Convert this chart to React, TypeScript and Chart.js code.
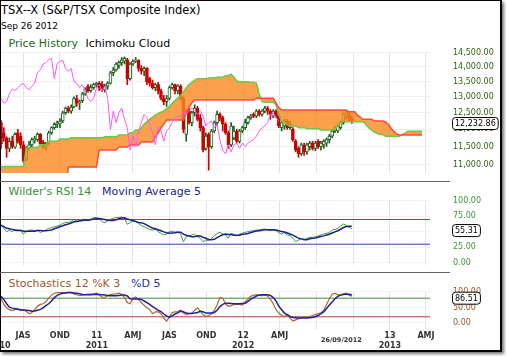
import React, { useEffect, useRef } from 'react';
import { Chart, registerables } from 'chart.js';

Chart.register(...registerables);

const FONT = '"DejaVu Sans", Verdana, sans-serif';

// ---------------- time axis ----------------
const AXIS_ORIGIN = '2010-07-01';
const X_MIN_DATE = '2010-05-07';
const X_MAX_DATE = '2013-04-11';
const FIRST_WEEK = '2010-05-07'; // first weekly candle (Friday)
const QUARTER_DATES = ['2010-07-01', '2010-10-01', '2011-01-01', '2011-04-01', '2011-07-01', '2011-10-01',
  '2012-01-01', '2012-04-01', '2012-07-01', '2012-10-01', '2013-01-01', '2013-04-01'];
const QUARTER_LABELS: any[] = ['JAS', 'OND', ['11', '2011'], 'AMJ', 'JAS', 'OND', ['12', '2012'], 'AMJ', '', '',
  ['13', '2013'], 'AMJ'];
const EDGE_YEAR_DATE = '2010-05-17';
const EDGE_YEAR_LABEL = ['', '10'];
const AS_OF_LABEL_DATE = '2012-09-02';
const AS_OF_LABEL = '26/09/2012';

// ---------------- weekly candles (May 7 2010 .. Sep 28 2012) ----------------
const OPEN = [12200, 11900, 11750, 11450, 11650, 11480, 11900, 11800,
  11550, 11150, 11450, 11550, 11700, 11700, 11850, 11620, 11480, 11580,
  11900, 12050, 12150, 12160, 12250, 12500, 12650, 12550, 12680, 12950,
  12800, 12880, 13100, 13350, 13200, 13300, 13400, 13450, 13420, 13230,
  13350, 13450, 13800, 13900, 14050, 14150, 14200, 14250, 13600, 14100,
  14200, 14230, 13950, 13850, 13950, 13600, 13450, 13300, 13400, 13200,
  12950, 12850, 12950, 13300, 13400, 13200, 13350, 12950, 11850, 12550,
  12200, 12500, 12650, 12350, 12050, 11450, 11850, 11500, 11950, 12200,
  12450, 12350, 12150, 11900, 11550, 11750, 11950, 11650, 11950, 12050,
  12200, 12350, 12450, 12400, 12550, 12450, 12550, 12650, 12550, 12400,
  12550, 12400, 12050, 12100, 12250, 12050, 12000, 11650, 11450, 11300,
  11550, 11350, 11500, 11600, 11450, 11650, 11500, 11550, 11600, 11700,
  11800, 11950, 11950, 12050, 12200, 12400, 12450, 12350];
const HIGH = [12260, 12050, 11780, 11750, 11800, 11900, 12000, 11900,
  11650, 11500, 11650, 11750, 11800, 11900, 11880, 11680, 11620, 11950,
  12080, 12200, 12250, 12320, 12550, 12680, 12700, 12750, 13000, 13050,
  12900, 13150, 13300, 13400, 13400, 13450, 13480, 13500, 13500, 13420,
  13500, 13850, 13980, 14150, 14200, 14330, 14350, 14300, 14150, 14250,
  14330, 14250, 14050, 14000, 13980, 13650, 13550, 13450, 13480, 13250,
  13050, 13050, 13350, 13450, 13420, 13400, 13400, 13000, 12600, 12650,
  12550, 12750, 12700, 12450, 12100, 11900, 11900, 12000, 12250, 12550,
  12500, 12400, 12200, 11950, 12200, 12100, 12000, 12000, 12100, 12300,
  12400, 12450, 12500, 12600, 12600, 12600, 12700, 12700, 12600, 12600,
  12600, 12450, 12250, 12300, 12300, 12250, 12050, 11700, 11500, 11600,
  11600, 11600, 11650, 11650, 11650, 11700, 11650, 11700, 11750, 11850,
  12000, 12100, 12150, 12250, 12500, 12550, 12500, 12400];
const LOW = [11450, 11650, 11200, 11350, 11450, 11450, 11600, 11450,
  11050, 11100, 11400, 11500, 11600, 11650, 11520, 11430, 11400, 11560,
  11850, 12000, 12050, 12050, 12200, 12450, 12500, 12480, 12650, 12700,
  12600, 12820, 13050, 13150, 13150, 13250, 13330, 13200, 13180, 13150,
  13250, 13420, 13700, 13850, 13950, 14050, 14100, 13400, 13550, 14050,
  14150, 13850, 13750, 13700, 13400, 13350, 13250, 13200, 13100, 12900,
  12750, 12700, 12900, 13250, 13100, 13100, 12900, 11900, 11650, 12150,
  12100, 12400, 12250, 11950, 11350, 11400, 10850, 11450, 11900, 12100,
  12250, 11950, 11850, 11450, 11500, 11700, 11600, 11600, 11900, 12000,
  12150, 12300, 12350, 12350, 12400, 12400, 12500, 12450, 12300, 12350,
  12350, 12050, 11950, 12000, 12000, 12000, 11650, 11350, 11200, 11250,
  11250, 11280, 11400, 11400, 11380, 11450, 11400, 11450, 11500, 11600,
  11750, 11900, 11900, 12000, 12150, 12300, 12250, 12180];
const CLOSE = [11580, 11750, 11450, 11650, 11500, 11850, 11650, 11550,
  11100, 11450, 11550, 11700, 11710, 11850, 11580, 11480, 11580, 11900,
  12050, 12150, 12160, 12250, 12500, 12650, 12550, 12680, 12950, 12800,
  12850, 13100, 13250, 13200, 13300, 13400, 13440, 13300, 13230, 13350,
  13450, 13800, 13900, 14100, 14150, 14250, 14300, 13600, 14100, 14200,
  14230, 13950, 13850, 13950, 13500, 13450, 13300, 13400, 13200, 12950,
  12850, 12950, 13300, 13400, 13200, 13350, 12950, 12000, 12550, 12200,
  12500, 12650, 12300, 12050, 11400, 11800, 11500, 11950, 12200, 12450,
  12350, 12150, 11900, 11550, 12100, 11950, 11650, 11950, 12050, 12200,
  12350, 12400, 12400, 12550, 12450, 12550, 12650, 12550, 12450, 12550,
  12400, 12100, 12200, 12250, 12050, 12150, 11700, 11400, 11300, 11550,
  11350, 11550, 11600, 11450, 11600, 11500, 11600, 11650, 11700, 11800,
  11950, 12050, 12100, 12200, 12450, 12500, 12350, 12232.86];
const LAST_CLOSE_TEXT = '12,232.86';

// Ichimoku cloud (senkou spans, drawn 26 weeks ahead)
const SPAN_A = [10950, 10950, 10950, 10950, 10950, 10950, 10950, 10950, 10950,
  11450, 11470, 11470, 11470, 11470, 11550, 11550, 11550, 11650, 11650, 11650, 11650,
  11720, 11720, 11720, 11720, 11750, 11750, 11750, 11750, 11750, 11750, 11750, 11750,
  11750, 11750, 11750, 11750, 11780, 11780, 11780, 11780, 11780, 11830, 11830, 11830,
  11830, 11900, 11900, 11980, 11980, 12050, 12150, 12230, 12300, 12370, 12430, 12480,
  12520, 12560, 12630, 12700, 12800, 12880, 12960, 13050, 13150, 13300, 13400, 13480,
  13550, 13600, 13600, 13600, 13600, 13620, 13620, 13620, 13650, 13650, 13650, 13700,
  13700, 13750, 13650, 13520, 13500, 13500, 13500, 13500, 13480, 13480, 13450, 13100,
  12850, 12830, 12830, 12830, 12830, 12750, 12450, 12220, 12200, 12130, 12100, 12100,
  12100, 12050, 12050, 12050, 12020, 12020, 12020, 12020, 12020, 11980, 11980, 11980,
  11980, 11980, 12000, 12100, 12200, 12230, 12230, 12230, 12230, 12230, 12230, 12230,
  12230, 12150, 12050, 11980, 11920, 11880, 11850, 11850, 11800, 11800, 11800, 11800,
  11800, 11800, 11850, 11890, 11940, 11940, 11940, 11940, 11940, 11940];
const SPAN_B = [10200, 10200, 10200, 10200, 10200, 10200, 10200, 10200, 10200, 10200,
  10200, 10200, 10200, 10200, 10200, 10200, 10200, 10200, 10200, 10200, 10200, 10200,
  10200, 10200, 10935, 10935, 10935, 10935, 10935, 10935, 10935, 10935, 10935, 10935,
  10935, 11400, 11400, 11400, 11400, 11400, 11400, 11400, 11490, 11490, 11490, 11490,
  11545, 11545, 11545, 11545, 11630, 11630, 11630, 11630, 11630, 11776, 11890, 12040,
  12160, 12280, 12280, 12280, 12280, 12280, 12280, 12280, 12495, 12680, 12810,
  12900, 12900, 12900, 12900, 12900, 12900, 12900, 12900, 12900, 12900, 12900, 12900,
  12900, 12900, 12900, 12900, 12900, 12900, 12900, 12900, 12900, 12900,
  12960, 12960, 12960, 12960, 12960, 12960, 12960, 12800, 12650,
  12590, 12590, 12590, 12590, 12590, 12590, 12590, 12590, 12590, 12590, 12590, 12590,
  12590, 12590, 12590, 12590, 12590, 12590, 12590, 12590, 12590, 12590, 12590, 12590,
  12530, 12530, 12530, 12430, 12370, 12300, 12300, 12300, 12300, 12250, 12250, 12250,
  12250, 12220, 12150, 12030, 11930, 11860, 11830, 11830, 11830, 11830, 11830, 11830,
  11830, 11830, 11830];
const CHIKOU_SHIFT = 26;

// ---------------- Wilder's RSI 14 + MA 5 ----------------
const RSI = [61, 56, 50, 53, 50, 54, 53, 52,
  46.5, 50, 53, 53, 52, 53, 48.7, 51.4, 53, 55.7,
  56.8, 58.4, 59.5, 60.6, 63.8, 65.4, 64.9, 67, 70.3, 67,
  68, 70.3, 70.3, 69.2, 70.8, 73, 73.5, 71.4, 66.5, 64.9,
  68, 70.3, 71.9, 73, 73.5, 74, 71.9, 62.2, 65.4, 67.6,
  67, 63.8, 60, 58.4, 55.7, 54, 53, 54, 50.3, 47.6,
  45, 46.5, 50.3, 51.4, 49.2, 50.3, 46.5, 34, 42.2, 43.3,
  45, 46, 42.2, 39.5, 34, 36.8, 35.7, 39.5, 43.3, 47.6,
  49.2, 46.5, 45, 39.5, 47.6, 46, 43.3, 46.5, 47.6, 49.2,
  50.3, 51.4, 52, 53, 53, 54, 54.6, 53, 52, 53,
  52, 48.7, 46.5, 48.7, 45, 43.8, 39.5, 34, 36.8, 39,
  37.9, 39.5, 41.1, 40.6, 42.2, 43.3, 45, 46.5, 47.6, 48.7,
  53, 54, 55.7, 59.5, 62.7, 60.6, 57.3, 55.31];
const RSI_MA = [61, 58.5, 55.7, 55, 54, 52.6, 52, 52.4,
  51.1, 51.1, 50.9, 50.9, 50.9, 52.2, 52, 51.6, 51.6, 52.4,
  53.1, 55.1, 56.7, 58.2, 59.8, 61.5, 62.8, 64.3, 66.3, 66.9,
  67.4, 68.5, 69.2, 69, 69.7, 70.7, 71.4, 71.6, 70.9, 69.9,
  68.9, 68.2, 68.3, 69.6, 71.3, 72.5, 72.9, 70.9, 69.4, 68.2,
  66.8, 65.2, 64.8, 63.4, 61, 58.4, 56.2, 55, 53.4, 51.8,
  50, 48.7, 47.9, 48.2, 48.5, 49.5, 49.5, 46.3, 44.4, 43.3,
  42.2, 42.1, 43.7, 43.2, 41.3, 39.7, 37.6, 37.1, 37.9, 40.6,
  43.1, 45.2, 46.3, 45.6, 45.6, 44.5, 44.3, 44.6, 46.2, 46.5,
  47.4, 49, 50.1, 51.2, 51.9, 52.7, 53.3, 53.5, 53.3, 53.3,
  52.9, 51.7, 50.4, 49.8, 48.2, 46.5, 44.7, 42.2, 39.8, 38.6,
  37.4, 37.4, 38.9, 39.6, 40.2, 41.3, 42.4, 43.5, 44.9, 46.2,
  48.2, 50, 51.8, 54.2, 57, 58.5, 59.2, 59.1];
const RSI_TEXT = '55.31';
const RSI_LEVELS = [70, 30];

// ---------------- Stochastics 12 %K 3 %D 5 ----------------
const STOCH_K = [79, 60, 49, 43, 40, 43, 46, 40,
  42, 38, 30, 34, 43, 54, 60, 62, 69, 80,
  90, 96, 98, 98, 98, 98, 99, 97, 94, 91,
  88, 90, 92, 93, 93, 94, 96, 90, 83, 83,
  88, 92, 93, 94, 96, 93, 82, 66, 62, 80,
  84, 76, 66, 57, 49, 43, 30, 36, 36, 30,
  16, 6, 19, 34, 36, 37, 42, 32, 27, 30,
  32, 41, 49, 38, 27, 21, 24, 30, 41, 58,
  82, 80, 62, 54, 56, 60, 61, 60, 58, 68,
  77, 86, 90, 91, 89, 88, 90, 87, 77, 62,
  43, 32, 24, 21, 27, 16, 6, 10, 14, 17,
  18, 19, 21, 24, 27, 30, 33, 40, 60, 78,
  93, 96, 91, 91, 94, 96, 90, 86.51];
const STOCH_D = [86, 76, 62, 51, 48, 46, 44, 43,
  42, 41, 40, 38, 39, 41, 44, 49, 56, 62,
  71, 82, 89, 93, 96, 97, 98, 98, 97, 96,
  94, 92, 91, 91, 91, 92, 93, 92, 91, 90,
  89, 88, 88, 88, 89, 90, 90, 87, 78, 77,
  77, 77, 76, 71, 66, 60, 53, 47, 41, 37,
  29, 23, 19, 23, 29, 33, 38, 36, 32, 31,
  31, 32, 34, 38, 36, 32, 32, 32, 34, 41,
  53, 60, 64, 64, 63, 62, 62, 62, 63, 64,
  70, 77, 82, 87, 90, 91, 91, 91, 89, 82,
  71, 54, 43, 32, 27, 21, 18, 17, 16, 16,
  16, 16, 17, 18, 20, 24, 30, 36, 47, 58,
  68, 78, 86, 90, 92, 93, 93, 91];
const STOCH_TEXT = '86.51';
const STOCH_LEVELS = [80, 20];

// ---------------- axes ----------------
const PRICE_TICKS = [11000, 11500, 12000, 12500, 13000, 13500, 14000, 14500];
const PRICE_MIN = 10773;
const PRICE_MAX = 14525;
const RSI_TICKS = [0, 25, 50, 75, 100];
const RSI_MIN = -3.7;
const RSI_MAX = 101.6;
const STOCH_TICKS = [0, 50, 100];
const STOCH_MIN = -22.6;
const STOCH_MAX = 103.2;

// ---------------- helpers ----------------
const DAY = 86400000;
const dayNum = (d: string) => (Date.parse(d) - Date.parse(AXIS_ORIGIN)) / DAY;
const weekX = (i: number) => dayNum(FIRST_WEEK) + 7 * i;
const XMIN = dayNum(X_MIN_DATE);
const XMAX = dayNum(X_MAX_DATE);

const X_TICKS: any[] = [
  ...QUARTER_DATES.map((d, i) => ({ value: dayNum(d), label: QUARTER_LABELS[i], grid: true, small: false })),
  { value: dayNum(AS_OF_LABEL_DATE), label: AS_OF_LABEL, grid: false, small: true },
  { value: dayNum(EDGE_YEAR_DATE), label: EDGE_YEAR_LABEL, grid: false, small: false },
];

const GRID_V = '#e3e3e3';
const fmt2 = (v: number) => Number(v).toLocaleString('en-US', { minimumFractionDigits: 2, maximumFractionDigits: 2 });

function xScale(showLabels: boolean) {
  return {
    type: 'linear',
    min: XMIN,
    max: XMAX,
    bounds: 'data',
    offset: false,
    border: { display: false },
    grid: {
      offset: false,
      drawTicks: false,
      lineWidth: 1,
      color: (c: any) => (X_TICKS[c.index] && X_TICKS[c.index].grid ? GRID_V : 'rgba(0,0,0,0)'),
    },
    afterBuildTicks: (s: any) => { s.ticks = X_TICKS.map((t) => ({ value: t.value })); },
    ticks: {
      display: showLabels,
      autoSkip: false,
      maxRotation: 0,
      minRotation: 0,
      padding: 1,
      color: '#333333',
      callback: (_v: any, i: number) => (X_TICKS[i] ? X_TICKS[i].label : ''),
      font: (c: any) => (X_TICKS[c.index] && X_TICKS[c.index].small
        ? { family: FONT, size: 6.5, weight: 'bold', lineHeight: '19px' }
        : { family: FONT, size: 8, weight: 'bold', lineHeight: '10px' }),
    },
    afterFit: (s: any) => { s.paddingLeft = 0; s.paddingRight = 0; s.height = showLabels ? 21 : 0; },
  };
}

function yScale(type: string, min: number, max: number, ticks: number[], color: string, grid: string) {
  return {
    type,
    position: 'right',
    min,
    max,
    bounds: 'data',
    border: { display: false },
    grid: { color: grid, drawTicks: false },
    afterBuildTicks: (s: any) => { s.ticks = ticks.map((v) => ({ value: v })); },
    ticks: { autoSkip: false, padding: 23, color, font: { family: FONT, size: 8 }, callback: (v: any) => fmt2(v) },
    afterFit: (s: any) => { s.width = 70; s.paddingTop = 0; s.paddingBottom = 0; },
  };
}

const valueBox = {
  id: 'valueBox',
  afterDraw(chart: any, _args: any, opts: any) {
    if (!opts || !opts.text) return;
    const { ctx, chartArea } = chart;
    const y = chart.scales.y.getPixelForValue(opts.value) + 2;
    ctx.save();
    ctx.font = `8px ${FONT}`;
    const w = ctx.measureText(opts.text).width + 5;
    const x = chartArea.right + 22.5;
    const h = 12;
    ctx.beginPath();
    ctx.roundRect(x, y - h / 2, w, h, 3);
    ctx.fillStyle = '#ffffff';
    ctx.fill();
    ctx.lineWidth = 1;
    ctx.strokeStyle = '#000000';
    ctx.stroke();
    ctx.fillStyle = '#000000';
    ctx.textBaseline = 'middle';
    ctx.textAlign = 'left';
    ctx.fillText(opts.text, x + 2.5, y + 0.5);
    ctx.restore();
  },
};

const baseOptions = (padTop: number, padBottom: number) => ({
  responsive: false,
  maintainAspectRatio: false,
  animation: false,
  devicePixelRatio: 1,
  events: [],
  layout: { padding: { left: 1, right: 0, top: padTop, bottom: padBottom } },
});

const line = (data: any[], color: string, width: number, order: number, extra: any = {}) => ({
  type: 'line',
  data,
  borderColor: color,
  borderWidth: width,
  pointRadius: 0,
  tension: 0,
  fill: false,
  order,
  ...extra,
});

function priceConfig(): any {
  const up = CLOSE.map((c, i) => c >= OPEN[i]);
  const UP = '#1d5e1d';
  const DOWN = '#cc0000';
  return {
    type: 'bar',
    data: {
      datasets: [
        line(CLOSE.slice(CHIKOU_SHIFT).map((c, k) => ({ x: weekX(k), y: c })), '#ff55ff', 1, 0),
        line(SPAN_A.map((v, i) => ({ x: weekX(i), y: v })), '#66cc44', 1.5, 2,
          { fill: '+1', backgroundColor: 'rgba(250,136,31,0.8)' }),
        line(SPAN_B.map((v, i) => ({ x: weekX(i), y: v })), '#ff4a3a', 1.5, 1),
        {
          type: 'bar',
          data: OPEN.map((o, i) => ({ x: weekX(i), y: [o, CLOSE[i]] })),
          backgroundColor: up.map((u) => (u ? '#ffffff' : DOWN)),
          borderColor: up.map((u) => (u ? UP : DOWN)),
          borderWidth: 1,
          borderSkipped: false,
          barThickness: 3,
          minBarLength: 1,
          grouped: false,
          order: 4,
        },
        {
          type: 'bar',
          data: HIGH.map((h, i) => ({ x: weekX(i), y: [LOW[i], h] })),
          backgroundColor: up.map((u) => (u ? UP : DOWN)),
          borderWidth: 0,
          barThickness: 1,
          grouped: false,
          order: 5,
        },
      ],
    },
    options: {
      ...baseOptions(12, 7),
      scales: {
        x: xScale(false),
        y: yScale('logarithmic', PRICE_MIN, PRICE_MAX, PRICE_TICKS, '#2f5f12', '#f0f0f0'),
      },
      plugins: {
        legend: { display: false },
        tooltip: { enabled: false },
        valueBox: { value: CLOSE[CLOSE.length - 1], text: LAST_CLOSE_TEXT },
      },
    },
    plugins: [valueBox],
  };
}

function rsiConfig(): any {
  return {
    type: 'line',
    data: {
      datasets: [
        line(RSI.map((v, i) => ({ x: weekX(i), y: v })), '#3a9a3a', 1, 2),
        line(RSI_MA.map((v, i) => ({ x: weekX(i), y: v })), '#1e1e8e', 1.5, 1),
        line([{ x: XMIN, y: RSI_LEVELS[0] }, { x: XMAX, y: RSI_LEVELS[0] }], '#b23a3a', 1, 3),
        line([{ x: XMIN, y: RSI_LEVELS[1] }, { x: XMAX, y: RSI_LEVELS[1] }], '#3a3ac0', 1, 3),
      ],
    },
    options: {
      ...baseOptions(12, 6),
      scales: {
        x: xScale(false),
        y: yScale('linear', RSI_MIN, RSI_MAX, RSI_TICKS, '#3a943a', '#f3f3f3'),
      },
      plugins: {
        legend: { display: false },
        tooltip: { enabled: false },
        valueBox: { value: RSI[RSI.length - 1], text: RSI_TEXT },
      },
    },
    plugins: [valueBox],
  };
}

function stochConfig(): any {
  return {
    type: 'line',
    data: {
      datasets: [
        line(STOCH_K.map((v, i) => ({ x: weekX(i), y: v })), '#b0642a', 1.2, 2),
        line(STOCH_D.map((v, i) => ({ x: weekX(i), y: v })), '#2020a0', 1.5, 1),
        line([{ x: XMIN, y: STOCH_LEVELS[0] }, { x: XMAX, y: STOCH_LEVELS[0] }], '#3c8c3c', 1, 3),
        line([{ x: XMIN, y: STOCH_LEVELS[1] }, { x: XMAX, y: STOCH_LEVELS[1] }], '#b23c3c', 1, 3),
      ],
    },
    options: {
      ...baseOptions(8, 0),
      scales: {
        x: xScale(true),
        y: yScale('linear', STOCH_MIN, STOCH_MAX, STOCH_TICKS, '#9a5424', '#f3f3f3'),
      },
      plugins: {
        legend: { display: false },
        tooltip: { enabled: false },
        valueBox: { value: STOCH_K[STOCH_K.length - 1], text: STOCH_TEXT },
      },
    },
    plugins: [valueBox],
  };
}

const txt = (left: number, top: number, size: number, color: string, lh: number): React.CSSProperties => ({
  position: 'absolute', left, top, fontSize: size, color, lineHeight: `${lh}px`, whiteSpace: 'nowrap', fontFamily: FONT,
});

export default function App() {
  const priceRef = useRef<HTMLCanvasElement>(null);
  const rsiRef = useRef<HTMLCanvasElement>(null);
  const stochRef = useRef<HTMLCanvasElement>(null);

  useEffect(() => {
    const charts = [
      new Chart(priceRef.current as HTMLCanvasElement, priceConfig()),
      new Chart(rsiRef.current as HTMLCanvasElement, rsiConfig()),
      new Chart(stochRef.current as HTMLCanvasElement, stochConfig()),
    ];
    return () => charts.forEach((c) => c.destroy());
  }, []);

  return (
    <div style={{ position: 'absolute', left: 0, top: 0, width: 506, height: 356, background: '#ffffff', overflow: 'hidden', fontFamily: FONT }}>
      <div style={{ position: 'absolute', left: 0, top: 0, width: 499, height: 349, borderStyle: 'solid', borderColor: '#000', borderWidth: '1px 2px 2px 1px', boxShadow: '2px 2px 3px rgba(0,0,0,0.55)', background: '#fff' }} />
      <div style={txt(1, 3, 11.5, '#000', 14)}>{'TSX--X (S&P/TSX Composite Index)'}</div>
      <div style={txt(1, 20, 9, '#000', 12)}>{'Sep 26 2012'}</div>
      <div style={txt(8.5, 36.5, 11, '#1a6b1a', 14)}>{'Price History'}</div>
      <div style={txt(85.5, 36.5, 11, '#000', 14)}>{'Ichimoku Cloud'}</div>
      <div style={{ position: 'absolute', left: 0, top: 181, width: 450, height: 1, background: '#666' }} />
      <div style={txt(8.5, 185.2, 11, '#3a8f3a', 14)}>{"Wilder's RSI 14"}</div>
      <div style={txt(102, 185.2, 11, '#23238c', 14)}>{'Moving Average 5'}</div>
      <div style={{ position: 'absolute', left: 0, top: 272, width: 450, height: 1, background: '#666' }} />
      <div style={txt(8.5, 276.9, 11, '#a0582a', 14)}>{'Stochastics 12 %K 3'}</div>
      <div style={txt(131, 276.9, 11, '#2a2aa0', 14)}>{'%D 5'}</div>
      <canvas ref={priceRef} width={500} height={140} style={{ position: 'absolute', left: 0, top: 40 }} />
      <canvas ref={rsiRef} width={500} height={83} style={{ position: 'absolute', left: 0, top: 188 }} />
      <canvas ref={stochRef} width={500} height={68} style={{ position: 'absolute', left: 0, top: 283 }} />
    </div>
  );
}
